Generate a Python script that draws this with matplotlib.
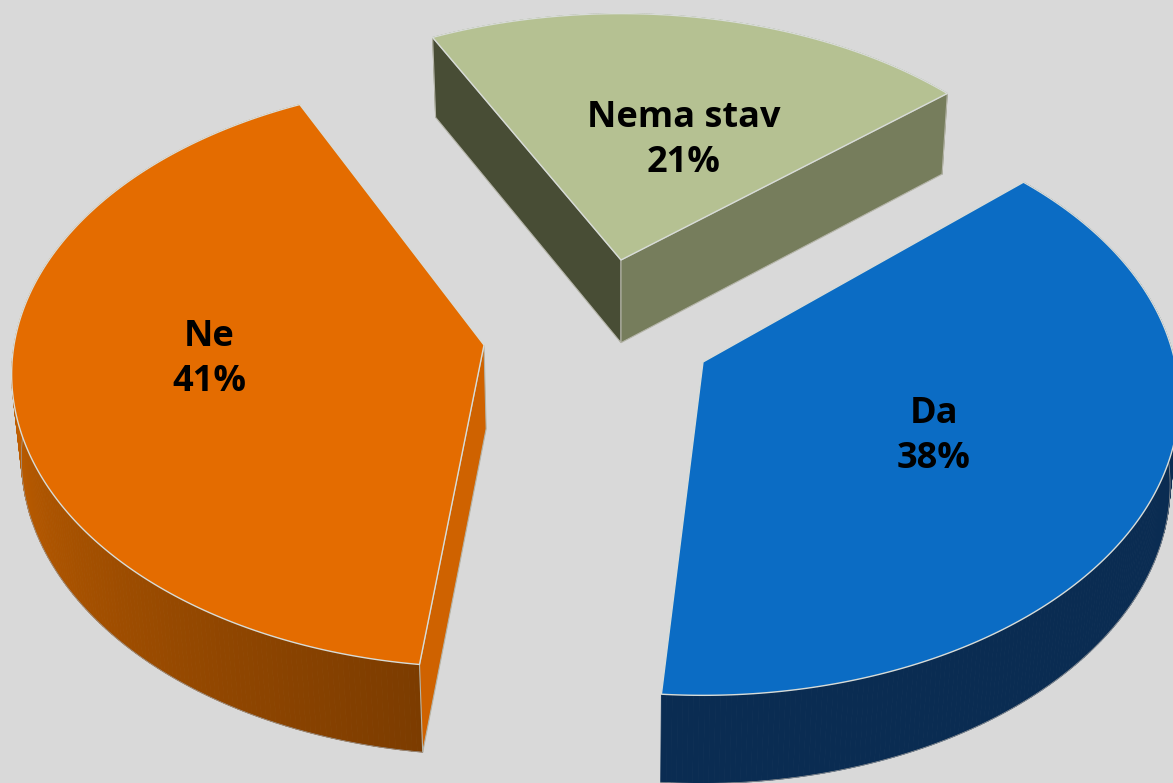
import numpy as np
import matplotlib
matplotlib.use("Agg")
import matplotlib.pyplot as plt
from matplotlib.patches import Polygon
from matplotlib.colors import to_rgb

# data
labels = ["Da", "Ne", "Nema stav"]
values = [38, 41, 21]
percent_labels = ["38%", "41%", "21%"]

# styles
top_colors = ["#0B6CC4", "#E46C00", "#B5C192"]
wall_near = ["#0A2C52", "#7C3C00", "#767D5C"]
wall_far = ["#0A2C52", "#C46000", "#767D5C"]
start_cut = {"Ne": "#CF6200", "Nema stav": "#484D35"}
end_cut = {"Nema stav": "#767D5C"}
BG = "#D9D9D9"
RIM = "#D8DCD8"

# layout, pixel axes: apex of each exploded slice, label baseline, disc projection
apex = {"Da": (703, 362), "Ne": (484, 345), "Nema stav": (621, 260)}
label_xy = {"Da": (934, 423), "Ne": (209, 346), "Nema stav": (684, 127)}
disc_shape = {"Da": (472, 290, 0.13), "Ne": (470, 290, 0.10), "Nema stav": (460, 271, 0.10)}
rotation = {"Da": 0.4, "Ne": -2.3, "Nema stav": -1.1}
start_deg = 42.0
DEPTH = 80.0
LINE_GAP = 45


def disc(t, shape):
    rx, ry, p = shape
    w = 1 + p * np.sin(t)
    return rx * np.cos(t) / w, -ry * np.sin(t) / w


def drop(x, y):
    d = DEPTH + (y - 40) / 650 * 8
    return x + (620 - x) * 0.016, y + d


fig = plt.figure(figsize=(11.73, 7.83), dpi=100, facecolor=BG)
ax = fig.add_axes([0, 0, 1, 1])
ax.set_xlim(0, 1173)
ax.set_ylim(783, 0)
ax.axis("off")

fractions = np.array(values) / sum(values)
edges = start_deg - np.concatenate([[0], np.cumsum(fractions) * 360])

for i, name in enumerate(labels):
    a0 = np.radians(edges[i] + rotation[name])
    a1 = np.radians(edges[i + 1] + rotation[name])
    ts = np.linspace(a0, a1, 240)
    ox, oy = apex[name]
    dx, dy = disc(ts, disc_shape[name])
    rx, ry = ox + dx, oy + dy
    bx, by = drop(rx, ry)
    cx, cy = drop(ox, oy)

    # outer wall as shaded strips
    c_a, c_b = np.array(to_rgb(wall_near[i])), np.array(to_rgb(wall_far[i]))
    n = len(ts)
    for k in range(n - 1):
        f = np.clip(k / (n - 1) / 0.56, 0, 1)
        col = c_a + (c_b - c_a) * f
        ax.add_patch(Polygon([(rx[k], ry[k]), (rx[k + 1], ry[k + 1]),
                              (bx[k + 1], by[k + 1]), (bx[k], by[k])],
                             closed=True, fc=col, ec=col, lw=0.6, zorder=2))
    ax.plot(bx, by, color="#9A9A9A", lw=0.5, zorder=2.5)

    # cut faces
    for faces, j in ((start_cut, 0), (end_cut, -1)):
        if name in faces:
            ax.add_patch(Polygon([(ox, oy), (rx[j], ry[j]), (bx[j], by[j]), (cx, cy)],
                                 closed=True, fc=faces[name], ec="#B4B4A8", lw=0.8, zorder=3))

    # top face
    ax.add_patch(Polygon(np.column_stack([np.r_[ox, rx], np.r_[oy, ry]]), closed=True,
                         fc=top_colors[i], ec=RIM, lw=1.0, zorder=4, joinstyle="round"))

    # label
    lx, ly = label_xy[name]
    for line, text in enumerate((name, percent_labels[i])):
        ax.text(lx, ly + line * LINE_GAP, text, ha="center", va="baseline",
                family=["Open Sans", "DejaVu Sans"], weight="bold", fontsize=26,
                color="black", zorder=6)

fig.savefig("out.png", dpi=100, facecolor=BG)
